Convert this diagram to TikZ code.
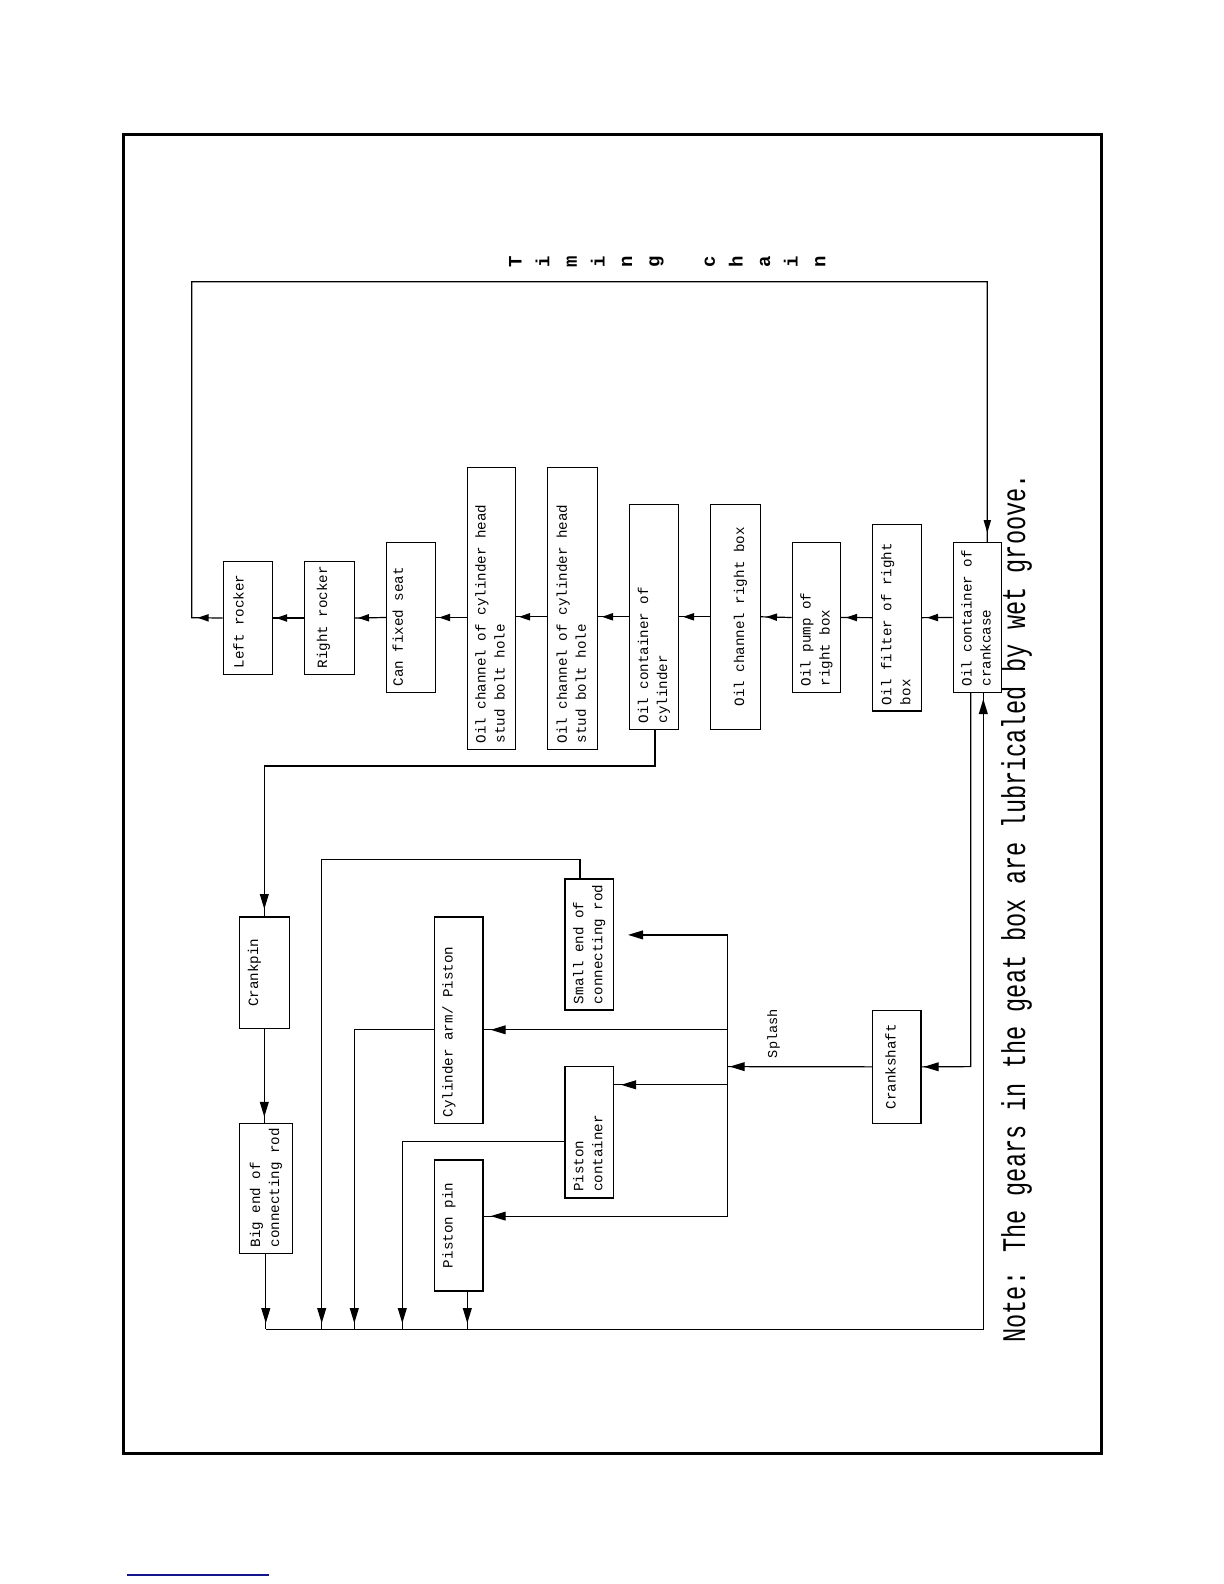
\documentclass[tikz,border=0pt]{standalone}
\usepackage{fontspec}
\setmainfont{Liberation Mono}
\usetikzlibrary{arrows.meta,decorations.markings}
\newcommand\mkbox[9][0]{%
  \pgfmathsetmacro\bxW{(#5-#3)*0.5}%
  \pgfmathsetmacro\bxH{(#6-#4)*0.5}%
  \pgfmathsetmacro\bxT{\bxH-6}%
  \pgfmathsetmacro\bxL{max(#1,0)}%
  \pgfmathsetmacro\bxR{max(0-(#1),0)}%
  \node[box,minimum width=\bxW pt,minimum height=\bxH pt] (#2) at ({(#3+#5)/2},{(#4+#6)/2})
   {\kern\bxL pt\rotatebox{90}{\parbox{\bxT pt}{\fontsize{7.1}{9.5}\selectfont#7\begin{tabular}{@{}#8@{}}#9\end{tabular}}}\kern\bxR pt};%
}
\begin{document}
\begin{tikzpicture}[x=0.5pt,y=-0.5pt,
  box/.style={draw,line width=0.7pt,rectangle,inner sep=0pt,anchor=center},
  con/.style={line width=0.6pt},
  tipat/.style={postaction={decorate},decoration={markings,mark=at position #1 with {\arrow{Triangle[length=5.5pt,width=3.6pt]}}}},
  tipbig/.style={postaction={decorate},decoration={markings,mark=at position #1 with {\arrow{Triangle[length=7.5pt,width=4.4pt]}}}},
]
\useasboundingbox (0,0) rectangle (1224,1584);
% outer frame
\draw[line width=1.5pt] (123.8,134.3) rectangle (1101.5,1453);
\draw[line width=0.6pt,color={rgb,255:red,20;green,20;blue,140}] (127,1575) -- (269,1575);

% top row boxes
\mkbox[-8]{lr}{223.3}{561.7}{272.3}{674.3}{\raggedright}{l}{Left rocker}
\mkbox[-6]{rr}{304.3}{561.7}{354.3}{674.3}{\raggedright}{l}{Right rocker}
\mkbox[-12]{cfs}{386.7}{542.7}{435.3}{692.3}{\raggedright}{l}{Can fixed seat}
\mkbox{oca}{467.3}{467.7}{515.3}{749.3}{\raggedright}{l}{Oil channel of cylinder head\\stud bolt hole}
\mkbox{ocb}{547.7}{467.7}{597.3}{749.3}{\raggedright}{l}{Oil channel of cylinder head\\stud bolt hole}
\mkbox{ocy}{629.3}{504.3}{678.3}{729.3}{\raggedright}{l}{Oil container of\\cylinder}
\mkbox[5]{ocr}{710.3}{504.3}{760.3}{729.3}{\centering}{c}{Oil channel right box}
\mkbox{pump}{792.3}{542.7}{840.3}{692.3}{\raggedright}{l}{Oil pump of\\right box}
\mkbox{filt}{872.7}{524.3}{921.3}{711}{\raggedright}{l}{Oil filter of right\\box}
\mkbox{cc}{953.3}{542.7}{1001.3}{692.3}{\raggedright}{l}{Oil container of\\crankcase}

% lower boxes
\mkbox[-10]{cp}{239.3}{916.8}{289.3}{1028.3}{\centering}{c}{Crankpin}
\mkbox{be}{239.3}{1123.6}{292.3}{1253.3}{\raggedright}{l}{Big end of\\connecting rod}
\mkbox[-10]{ca}{434.7}{916.8}{483}{1123.2}{\raggedright}{l}{Cylinder arm/ Piston}
\mkbox{se}{565}{878.8}{613.3}{1010}{\raggedright}{l}{Small end of\\connecting rod}
\mkbox{pc}{565}{1066.6}{613.3}{1197.9}{\raggedright}{l}{Piston\\container}
\mkbox[-10]{pp}{434.7}{1160}{483}{1290.8}{\centering}{c}{Piston pin}
\mkbox[-5]{cs}{872.7}{1010.5}{921}{1123.2}{\centering}{c}{Crankshaft}

% coordinates
\coordinate (rowL) at (191.7,617.7);
\coordinate (topL) at (191.7,281.7);
\coordinate (topR) at (987.3,281.7);
\coordinate (b1) at (655,766);
\coordinate (bot) at (266,1329.2);
\coordinate (br) at (983.3,1329.2);
\coordinate (cx) at (970.7,1066.6);
\coordinate (bus) at (727.7,1066.6);
\coordinate (s1) at (727.7,934.9);
\coordinate (s2) at (727.7,1029.8);
\coordinate (s3) at (727.7,1084.8);
\coordinate (s4) at (727.7,1216.1);
\coordinate (k1) at (580,859.8);
\coordinate (k2) at (321.7,859.8);
\coordinate (k3) at (354.3,1029.8);
\coordinate (k4) at (402.3,1141.3);
\coordinate (k5) at (467.3,1329.2);

% top row connectors
\draw[con,tipat=-2.5pt] (cc.west) -- (filt.east);
\draw[con,tipat=-2.5pt] (filt.west) -- (pump.east);
\draw[con,tipat=-2.5pt] (pump.west) -- (ocr.east);
\draw[con,tipat=-2pt] (ocr.west) -- (ocy.east);
\draw[con,tipat=-2pt] (ocy.west) -- (ocy.west -| ocb.east);
\draw[con,tipat=-1.5pt] (ocb.west |- ocy.west) -- (oca.east |- ocy.west);
\draw[con,tipat=-1.5pt] (oca.west |- cfs.east) -- (cfs.east);
\draw[con,tipat=-1.5pt] (cfs.west) -- (rr.east);
\draw[con,tipat=-1.5pt] (rr.west) -- (lr.east);
% timing chain loop
\draw[con,postaction={decorate},decoration={markings,
   mark=at position 12.5pt with {\arrow{Triangle[length=5.5pt,width=3.6pt]}},
   mark=at position -4.5pt with {\arrow{Triangle[length=6.5pt,width=3.6pt]}}}]
   (lr.west) -- (rowL) -- (topL) -- (topR) -- (cc.north -| topR);

% cylinder container to crankpin
\draw[con,tipbig=-3.5pt] (ocy.south -| b1) -- (b1) -| (cp.north);
\draw[con,tipbig=-3pt] (cp.south) -- (cp.south |- be.north);
\draw[con,tipbig=-3pt] (be.south) -- (be.south |- bot);

% return line to crankcase
\draw[con,tipbig=-3pt] (be.south |- bot) -- (br) -- (br |- cc.south);
% crankcase to crankshaft
\draw[con,tipbig=-1pt] (cc.south -| cx) -- (cx) -- (cs.east);
% crankshaft splash
\draw[con,tipbig=-1pt] (cs.west) -- (bus);
\draw[con] (s1) -- (s4);
\draw[con,-{Triangle[length=7.5pt,width=4.4pt]},shorten >=7pt] (s1) -- (se.east |- s1);
\draw[con,tipbig=-3.5pt] (s2) -- (ca.east |- s2);
\draw[con,tipbig=-3.5pt] (s3) -- (pc.east |- s3);
\draw[con,tipbig=-3.5pt] (s4) -- (pp.east |- s4);

% returns to bottom line
\draw[con,tipbig=-3pt] (k1 |- se.north) -- (k1) -- (k2) -- (k2 |- bot);
\draw[con,tipbig=-3pt] (ca.west |- k3) -- (k3) -- (k3 |- bot);
\draw[con,tipbig=-3pt] (pc.west |- k4) -- (k4) -- (k4 |- bot);
\draw[con,tipbig=-3pt] (k5 |- pp.south) -- (k5);

% labels
\node[rotate=90,anchor=base,inner sep=0pt,font=\fontsize{6.8}{7}\selectfont] (spl) at (777,1033.6) {Splash};
\foreach \k/\c in {0/T,1/i,2/m,3/i,4/n,5/g,7/c,8/h,9/a,10/i,11/n}
  \node[rotate=90,anchor=base,inner sep=0pt,font=\bfseries\fontsize{9.5}{10}\selectfont] (tc\k) at ({521.7+27.6*\k},261.5) {\c};
\node[rotate=90,anchor=base west,inner sep=0pt,font=\fontsize{11.8}{14}\selectfont] (note) at (1025,1343)
  {\scalebox{1}[1.4]{Note: The gears in the geat box are lubricaled by wet groove.}};
\end{tikzpicture}
\end{document}
